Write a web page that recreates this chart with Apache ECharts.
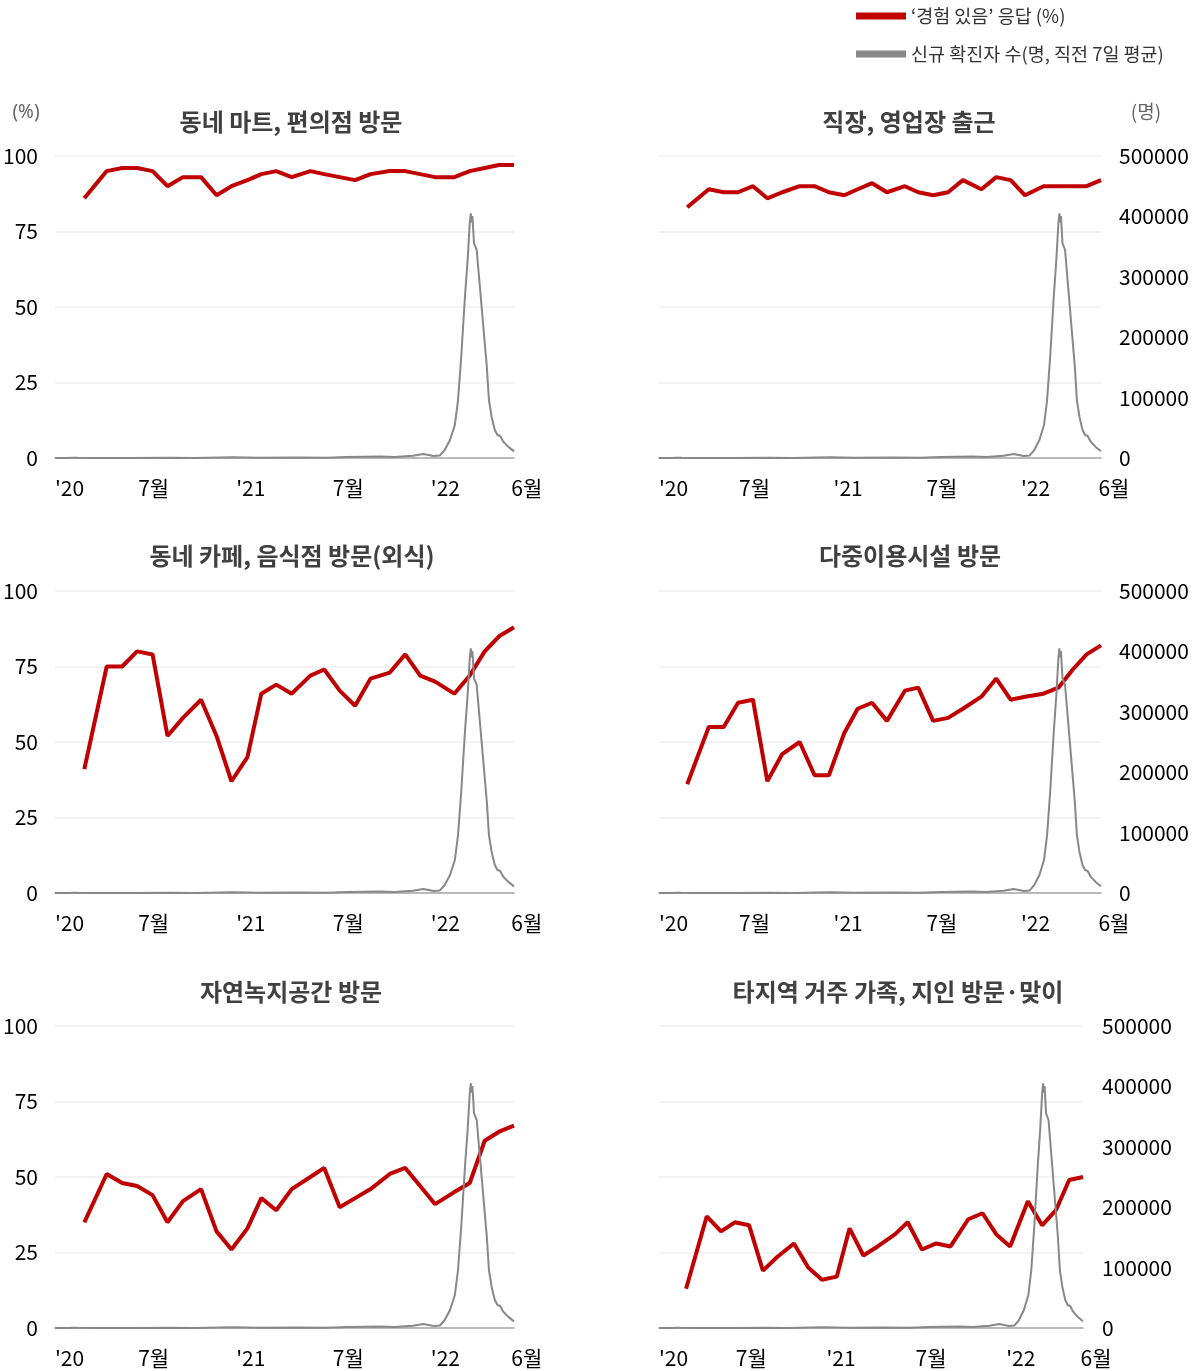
<!DOCTYPE html>
<html><head><meta charset="utf-8">
<script src="https://cdn.jsdelivr.net/npm/echarts@6/dist/echarts.min.js"></script>
<style>html,body{margin:0;padding:0;background:#fff}#c{width:1199px;height:1371px}</style>
</head><body><div id="c"></div>
<script>
// ---- data ----
const surveyDates = ['2020-03-22','2020-05-03','2020-06-01','2020-06-29','2020-07-28','2020-08-25','2020-09-23','2020-10-27','2020-11-25','2020-12-23',
  '2021-01-22','2021-02-17','2021-03-17','2021-04-15','2021-05-20','2021-06-15','2021-07-14','2021-08-12','2021-09-10','2021-10-16','2021-11-14','2021-12-12',
  '2022-01-09','2022-02-14','2022-03-15','2022-04-12','2022-05-09','2022-06-06'];
const martValues     = [86,95,96,96,95,90,93,93,87,90,92,94,95,93,95,94,93,92,94,95,95,94,93,93,95,96,97,97];
const workValues     = [83,89,88,88,90,86,88,90,90,88,87,89,91,88,90,88,87,88,92,89,93,92,87,90,90,90,90,92];
const cafeValues     = [41,75,75,80,79,52,58,64,52,37,45,66,69,66,72,74,67,62,71,73,79,72,70,66,72,80,85,88];
const facilityValues = [36,55,55,63,64,37,46,50,39,39,53,61,63,57,67,68,57,58,61,65,71,64,65,66,68,74,79,82];
const parkValues     = [35,51,48,47,44,35,42,46,32,26,33,43,39,46,50,53,40,43,46,51,53,47,41,45,48,62,65,67];
const familyValues   = [13,37,32,35,34,19,23.5,28,20,16,17,33,24,27,31,35,26,28,27,36,38,31,27,42,34,39,49,50];

const caseDates = ['2020-01-27','2020-02-20','2020-03-01','2020-03-10','2020-04-10','2020-06-15','2020-08-29','2020-10-15','2020-12-25',
  '2021-02-10','2021-04-25','2021-06-20','2021-07-28','2021-09-28','2021-10-25','2021-11-28','2021-12-18','2021-12-28',
  '2022-01-06','2022-01-18','2022-01-27','2022-02-06','2022-02-15','2022-02-21','2022-02-27','2022-03-06','2022-03-11','2022-03-15',
  '2022-03-17','2022-03-18','2022-03-20','2022-03-23','2022-03-28','2022-04-03','2022-04-10','2022-04-16','2022-04-20','2022-04-25',
  '2022-05-01','2022-05-06','2022-05-11','2022-05-17','2022-05-26','2022-06-06'];
const caseValues = [1,20,580,300,40,45,330,80,1050,
  400,650,450,1650,2400,1500,3800,6500,5000,
  3400,4200,13200,29800,54600,96000,167700,267000,327800,388600,
  405000,390000,400600,355400,344400,283600,212000,151200,96000,68400,
  46400,38100,36400,27000,18800,11000];

const xTickDates  = ['2020-01-27','2020-07-01','2021-01-01','2021-07-01','2022-01-01','2022-06-01'];
const xTickLabels = ["'20",'7월',"'21",'7월',"'22",'6월'];
const panelTitles = ['동네 마트, 편의점 방문','직장, 영업장 출근','동네 카페, 음식점 방문(외식)','다중이용시설 방문','자연녹지공간 방문','타지역 거주 가족, 지인 방문·맞이'];
const panelValues = [martValues, workValues, cafeValues, facilityValues, parkValues, familyValues];
const legendNames = ['‘경험 있음’ 응답 (%)','신규 확진자 수(명, 직전 7일 평균)'];

// ---- build ----
// x = days since 2020-01-27
const DAY = 86400000;
const base = Date.UTC(2020,0,27);
function dayIdx(s){const p=s.split('-').map(Number);return Math.round((Date.UTC(p[0],p[1]-1,p[2])-base)/DAY);}
const xMin = dayIdx('2020-01-27'), xMax = dayIdx('2022-06-06');
const tickIdx = xTickDates.map(dayIdx);
const tickMap = {}; tickIdx.forEach((t,i)=>tickMap[t]=xTickLabels[i]);
const caseData = caseDates.map((d,i)=>[dayIdx(d), caseValues[i]]);

const numFont = "'Noto Sans CJK KR',sans-serif";
const korFont = "'Noto Sans CJK KR','Noto Sans',sans-serif";

const grids = [
  {left:55, top:156, width:459, height:302},
  {left:659, top:156, width:442, height:302},
  {left:55, top:591, width:459, height:302},
  {left:659, top:591, width:442, height:302},
  {left:55, top:1026, width:459, height:302},
  {left:659, top:1026, width:424, height:302}
];
const titlePos = [[291,122],[909,122],[292,556],[910,556],[291,992],[898,992]];

const xAxes=[], yAxes=[], series=[], graphics=[];
grids.forEach((g,i)=>{
  const isLeft = i%2===0;
  xAxes.push({gridIndex:i, type:'value', min:xMin, max:xMax,
    axisLine:{show:true, onZero:false, lineStyle:{color:'#a6a6a6', width:1.5}},
    axisTick:{show:false}, splitLine:{show:false},
    axisLabel:{customValues:tickIdx, formatter:v=>tickMap[v]||'', align:'left', margin:20,
      fontSize:21, color:'#000', fontFamily:numFont, hideOverlap:false}
  });
  yAxes.push({gridIndex:i, type:'value', min:0, max:100, interval:25, position:'left',
    axisLine:{show:false}, axisTick:{show:false},
    splitLine:{show:true, lineStyle:{color:'#efefef', width:1.5}},
    axisLabel:{show:isLeft, margin:17, fontSize:21, color:'#000', fontFamily:numFont}
  });
  yAxes.push({gridIndex:i, type:'value', min:0, max:500000, interval:100000, position:'right',
    axisLine:{show:false}, axisTick:{show:false}, splitLine:{show:false},
    axisLabel:{show:!isLeft, margin: i===5?19:18, fontSize:21, color:'#000', fontFamily:numFont, formatter:v=>String(v)}
  });
  series.push({type:'line', name:legendNames[0], xAxisIndex:i, yAxisIndex:2*i,
    data: surveyDates.map((d,k)=>[dayIdx(d), panelValues[i][k]]),
    showSymbol:false, symbol:'none', lineStyle:{color:'#c00000', width:4}, itemStyle:{color:'#c00000'}, z:2});
  series.push({type:'line', name:legendNames[1], xAxisIndex:i, yAxisIndex:2*i+1,
    data: caseData, showSymbol:false, symbol:'none', lineStyle:{color:'#888888', width:2}, itemStyle:{color:'#888888'}, z:3});
  graphics.push({type:'text', x:titlePos[i][0], y:titlePos[i][1], style:{text:panelTitles[i], align:'center', verticalAlign:'middle',
    font:"bold 24px "+korFont, fill:'#404040'}});
});
graphics.push({type:'text', x:26, y:113, style:{text:'(%)', align:'center', verticalAlign:'middle', font:"19px 'Noto Sans',sans-serif", fill:'#666'}});
graphics.push({type:'text', x:1146, y:112, style:{text:'(명)', align:'center', verticalAlign:'middle', font:"19px "+korFont, fill:'#666'}});

const chart = echarts.init(document.getElementById('c'), null, {renderer:'canvas'});
chart.setOption({
  animation:false,
  backgroundColor:'#fff',
  legend:{data:legendNames, orient:'vertical', left:856, top:6, padding:0, itemWidth:50, itemHeight:7, itemGap:18, icon:'rect',
    textStyle:{fontSize:18.5, color:'#333', fontFamily:korFont, lineHeight:20}},
  grid:grids, xAxis:xAxes, yAxis:yAxes, series:series, graphic:graphics
});
</script></body></html>
